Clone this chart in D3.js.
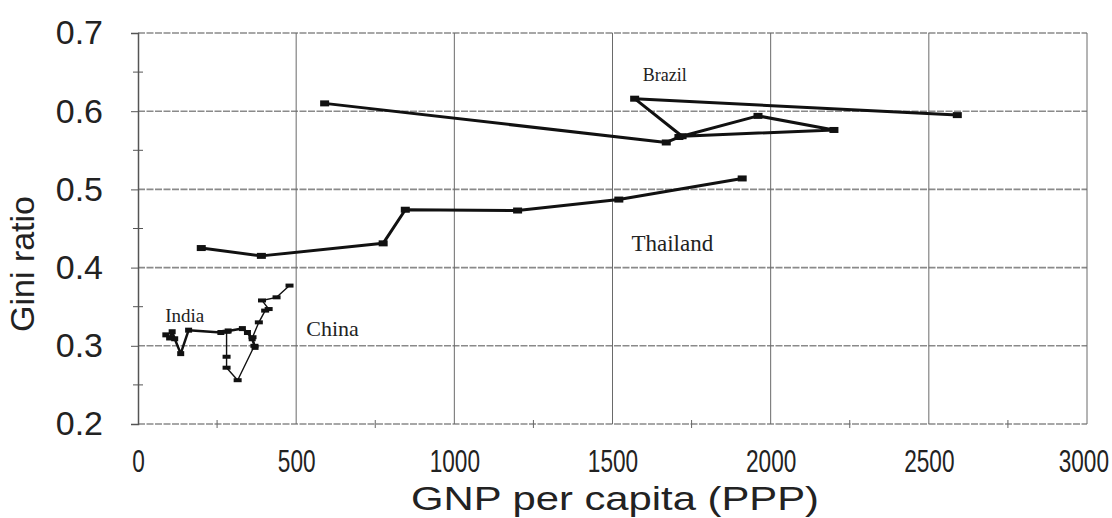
<!DOCTYPE html>
<html><head><meta charset="utf-8">
<script src="https://cdn.jsdelivr.net/npm/d3@7"></script>
<style>body{margin:0;background:#fff;} svg{display:block;}</style>
</head><body>
<svg id="c" width="1112" height="518"></svg>
<script>
// ---- data ----
const xTicks = [0, 500, 1000, 1500, 2000, 2500, 3000];
const yTicks = [0.2, 0.3, 0.4, 0.5, 0.6, 0.7];
const xMinor = [250, 750, 1250, 1750, 2250, 2750];
const yMinor = [0.25, 0.35, 0.45, 0.55, 0.65];

const brazilX = [590, 1670, 1710, 1960, 2200, 1720, 1570, 2590];
const brazilY = [0.610, 0.560, 0.567, 0.594, 0.576, 0.568, 0.616, 0.595];

const thailandX = [200, 390, 775, 845, 1200, 1520, 1910];
const thailandY = [0.425, 0.415, 0.431, 0.474, 0.473, 0.487, 0.514];

const indiaX = [88, 100, 108, 116, 135, 160, 262, 285, 330, 346, 361, 370];
const indiaY = [0.314, 0.310, 0.318, 0.309, 0.290, 0.320, 0.317, 0.319, 0.322, 0.317, 0.309, 0.298];

const chinaX = [280, 280, 280, 315, 368, 362, 382, 402, 413, 392, 438, 479];
const chinaY = [0.318, 0.286, 0.272, 0.256, 0.300, 0.311, 0.330, 0.345, 0.347, 0.358, 0.362, 0.377];

const labels = [
  {name: "Brazil", x: 1596, y: 0.638, size: 18},
  {name: "Thailand", x: 1560, y: 0.421, size: 23},
  {name: "India", x: 86, y: 0.330, size: 19},
  {name: "China", x: 532, y: 0.3125, size: 22}
];

// ---- chart ----
const svg = d3.select("#c");
const x = d3.scaleLinear().domain([0, 3000]).range([138, 1087]);
const y = d3.scaleLinear().domain([0.2, 0.7]).range([424, 33]);

// grid
const g = svg.append("g");
g.selectAll(".hg").data(yTicks).join("line")
  .attr("x1", x(0)).attr("x2", x(3000))
  .attr("y1", d => y(d)).attr("y2", d => y(d))
  .attr("stroke", "#8a8a8a").attr("stroke-width", 1.6).attr("stroke-dasharray", "7,1.5");
g.selectAll(".vg").data(xTicks.slice(1)).join("line")
  .attr("x1", d => x(d)).attr("x2", d => x(d))
  .attr("y1", y(0.7)).attr("y2", y(0.2))
  .attr("stroke", "#6a6a6a").attr("stroke-width", 1);

// axes
const yAxis = d3.axisLeft(y).tickValues(yTicks).tickFormat(d3.format(".1f")).tickSize(7).tickPadding(28);
const ya = svg.append("g").attr("transform", `translate(${x(0)},0)`).call(yAxis);
ya.select(".domain").attr("stroke", "#555").attr("stroke-width", 1.5);
ya.selectAll(".tick line").attr("stroke", "#555");
ya.selectAll("text").attr("font-family", "Liberation Sans, Arial, sans-serif").attr("font-size", 34).attr("fill", "#222");

svg.append("g").selectAll("line").data(yMinor).join("line")
  .attr("x1", x(0) - 5).attr("x2", x(0) + 5)
  .attr("y1", d => y(d)).attr("y2", d => y(d)).attr("stroke", "#555");

const xAxis = d3.axisBottom(x).tickValues(xTicks).tickFormat(d3.format("d")).tickSize(0).tickPadding(26);
const xa = svg.append("g").attr("transform", `translate(0,${y(0.2)})`).call(xAxis);
xa.select(".domain").remove();
xa.selectAll("text").attr("font-family", "Liberation Sans, Arial, sans-serif").attr("font-size", 31)
  .attr("fill", "#222").attr("transform", "scale(0.73,1)")
  .attr("dx", d => d === 3000 ? -5 : 0);

svg.append("g").selectAll("line").data(xMinor).join("line")
  .attr("x1", d => x(d)).attr("x2", d => x(d))
  .attr("y1", y(0.2) - 4).attr("y2", y(0.2) + 4).attr("stroke", "#666");

// axis titles
svg.append("text").attr("x", 615).attr("y", 510).attr("text-anchor", "middle")
  .attr("font-family", "Liberation Sans, Arial, sans-serif").attr("font-size", 33).attr("fill", "#222")
  .attr("textLength", 408).attr("lengthAdjust", "spacingAndGlyphs")
  .text("GNP per capita (PPP)");
svg.append("text").attr("transform", "translate(34,264) rotate(-90)").attr("text-anchor", "middle")
  .attr("font-family", "Liberation Sans, Arial, sans-serif").attr("font-size", 34).attr("fill", "#222")
  .text("Gini ratio");

// series
function series(xs, ys, width, mw, mh) {
  const pts = xs.map((v, i) => [v, ys[i]]);
  const line = d3.line().x(d => x(d[0])).y(d => y(d[1]));
  const s = svg.append("g");
  s.append("path").attr("d", line(pts)).attr("fill", "none").attr("stroke", "#111")
    .attr("stroke-width", width).attr("stroke-linejoin", "round");
  s.selectAll("rect").data(pts).join("rect")
    .attr("x", d => x(d[0]) - mw / 2).attr("y", d => y(d[1]) - mh / 2)
    .attr("width", mw).attr("height", mh).attr("fill", "#111");
}
series(brazilX, brazilY, 3, 9, 6);
series(thailandX, thailandY, 3, 9, 6);
series(indiaX, indiaY, 2.5, 7, 5);
series(chinaX, chinaY, 1.4, 8, 4);

svg.append("g").selectAll("text").data(labels).join("text")
  .attr("x", d => x(d.x)).attr("y", d => y(d.y))
  .attr("font-family", "Liberation Serif, Times New Roman, serif")
  .attr("font-size", d => d.size).attr("fill", "#222")
  .text(d => d.name);
</script>
</body></html>
